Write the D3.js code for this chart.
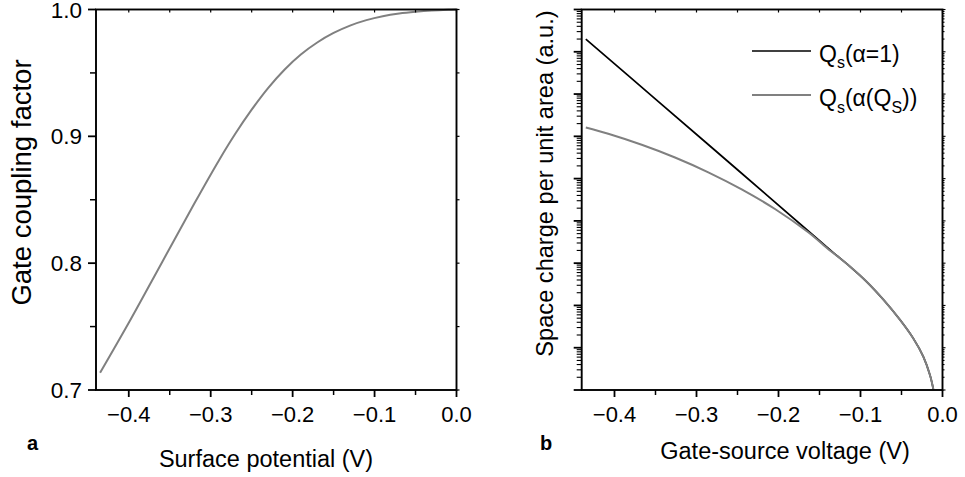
<!DOCTYPE html>
<html>
<head>
<meta charset="utf-8">
<script src="https://cdn.jsdelivr.net/npm/d3@7"></script>
<style>
  html, body { margin: 0; padding: 0; background: #fff; }
  svg { display: block; font-family: "Liberation Sans", Arial, sans-serif; }
</style>
</head>
<body>
<svg id="chart" width="965" height="477"></svg>
<script>
// ---------- data (panel a) ----------
const surfacePotential = [-0.435, -0.40, -0.36, -0.32, -0.29, -0.27, -0.25, -0.23, -0.21, -0.19, -0.17, -0.15, -0.13, -0.11, -0.09, -0.07, -0.05, -0.03, -0.01, 0.0];
const couplingFactor   = [0.7136, 0.753, 0.800, 0.847, 0.881, 0.902, 0.921, 0.938, 0.9525, 0.9645, 0.974, 0.9815, 0.9873, 0.9916, 0.9947, 0.9968, 0.9982, 0.9992, 0.9998, 1.0];

// ---------- data (panel b) ----------
const vgsAlpha1 = [-0.435, -0.35, -0.25, -0.15, -0.1332, -0.1128, -0.0924, -0.0722, -0.0518, -0.0356, -0.0234, -0.0152, -0.0112];
const qsAlpha1  = [2.0e8, 7.6e6, 1.62e5, 3.39e3, 1.78e3, 832, 363, 138, 45.7, 16.6, 6.17, 2.24, 1.05];
const vgsAlphaQ = [-0.435, -0.4076, -0.3668, -0.3262, -0.2856, -0.2449, -0.2043, -0.1637, -0.1393, -0.1332, -0.1128, -0.0924, -0.0722, -0.0518, -0.0356, -0.0234, -0.0152, -0.0112];
const qsAlphaQ  = [1.62e6, 1.15e6, 6.31e5, 3.16e5, 1.41e5, 5.56e4, 1.91e4, 5.37e3, 2.14e3, 1.74e3, 832, 363, 138, 45.7, 16.6, 6.17, 2.24, 1.05];

// ---------- tick labels ----------
const xTicks = [-0.4, -0.3, -0.2, -0.1, 0.0];
const xMinorTicks = [-0.35, -0.25, -0.15, -0.05];
const yTicksA = [0.7, 0.8, 0.9, 1.0];
const yMinorTicksA = [0.75, 0.85, 0.95];

const GRAY = "#808080";
const svg = d3.select("#chart");

function frame(g, x0, x1, y0, y1) {
  g.append("rect").attr("x", x0).attr("y", y0).attr("width", x1 - x0).attr("height", y1 - y0)
    .attr("fill", "none").attr("stroke", "#000").attr("stroke-width", 1.9);
}

function xAxisTicks(g, x, yBottom, yTop) {
  xTicks.forEach(t => {
    g.append("line").attr("x1", x(t)).attr("x2", x(t)).attr("y1", yBottom).attr("y2", yBottom + 7).attr("stroke", "#000").attr("stroke-width", 1.8);
    g.append("line").attr("x1", x(t)).attr("x2", x(t)).attr("y1", yTop).attr("y2", yTop + 3).attr("stroke", "#000").attr("stroke-width", 1.2);
    g.append("text").attr("x", x(t)).attr("y", yBottom + 32).attr("text-anchor", "middle")
      .attr("font-size", 22).text(d3.format(".1f")(t));
  });
  xMinorTicks.forEach(t => {
    g.append("line").attr("x1", x(t)).attr("x2", x(t)).attr("y1", yBottom).attr("y2", yBottom + 5).attr("stroke", "#000").attr("stroke-width", 1.5);
    g.append("line").attr("x1", x(t)).attr("x2", x(t)).attr("y1", yTop).attr("y2", yTop + 3).attr("stroke", "#000").attr("stroke-width", 1.2);
  });
}

// ---------- panel a ----------
{
  const L = 96, R = 456.5, T = 9.5, B = 390;
  const x = d3.scaleLinear().domain([-0.44, 0]).range([L, R]);
  const y = d3.scaleLinear().domain([0.7, 1.0]).range([B, T]);
  const g = svg.append("g");

  const line = d3.line().x(d => x(d[0])).y(d => y(d[1])).curve(d3.curveCatmullRom.alpha(0.5));
  g.append("path").datum(d3.zip(surfacePotential, couplingFactor))
    .attr("d", line).attr("fill", "none").attr("stroke", GRAY).attr("stroke-width", 2);

  frame(g, L, R, T, B);
  xAxisTicks(g, x, B, T);
  yTicksA.forEach(t => {
    g.append("line").attr("x1", L - 8).attr("x2", L).attr("y1", y(t)).attr("y2", y(t)).attr("stroke", "#000").attr("stroke-width", 1.8);
    g.append("line").attr("x1", R).attr("x2", R + 3).attr("y1", y(t)).attr("y2", y(t)).attr("stroke", "#000").attr("stroke-width", 1.2);
    g.append("text").attr("x", L - 14).attr("y", y(t)).attr("dy", "0.36em").attr("text-anchor", "end")
      .attr("font-size", 22.5).text(d3.format(".1f")(t));
  });
  yMinorTicksA.forEach(t => {
    g.append("line").attr("x1", L - 6).attr("x2", L).attr("y1", y(t)).attr("y2", y(t)).attr("stroke", "#000").attr("stroke-width", 1.5);
    g.append("line").attr("x1", R).attr("x2", R + 3).attr("y1", y(t)).attr("y2", y(t)).attr("stroke", "#000").attr("stroke-width", 1.2);
  });

  g.append("text").attr("transform", "translate(31,182.5) rotate(-90)").attr("text-anchor", "middle")
    .attr("font-size", 27.5).text("Gate coupling factor");
  g.append("text").attr("x", 266).attr("y", 467).attr("text-anchor", "middle")
    .attr("font-size", 23.5).text("Surface potential (V)");
  g.append("text").attr("x", 27).attr("y", 450).attr("font-size", 20).attr("font-weight", "bold").text("a");
}

// ---------- panel b ----------
{
  const L = 581.7, R = 942.5, T = 9.5, B = 390;
  const x = d3.scaleLinear().domain([-0.44, 0]).range([L, R]);
  const y = d3.scaleLog().domain([1, 1e9]).range([B, T]);
  const g = svg.append("g");

  g.append("defs").append("clipPath").attr("id", "clipB").append("rect")
    .attr("x", L).attr("y", T).attr("width", R - L).attr("height", B - T);

  const line = d3.line().x(d => x(d[0])).y(d => y(d[1])).curve(d3.curveCatmullRom.alpha(0.5));
  const plot = g.append("g").attr("clip-path", "url(#clipB)");
  plot.append("path").datum(d3.zip(vgsAlpha1, qsAlpha1))
    .attr("d", line).attr("fill", "none").attr("stroke", "#000").attr("stroke-width", 1.7);
  plot.append("path").datum(d3.zip(vgsAlphaQ, qsAlphaQ))
    .attr("d", line).attr("fill", "none").attr("stroke", GRAY).attr("stroke-width", 2);

  frame(g, L, R, T, B);
  xAxisTicks(g, x, B, T);

  y.ticks().forEach(t => {
    const major = Math.abs(Math.log10(t) - Math.round(Math.log10(t))) < 1e-9;
    const len = major ? 8 : 5;
    g.append("line").attr("x1", L - len).attr("x2", L).attr("y1", y(t)).attr("y2", y(t))
      .attr("stroke", "#000").attr("stroke-width", major ? 1.8 : 1.1);
    g.append("line").attr("x1", R).attr("x2", R + (major ? 3 : 2)).attr("y1", y(t)).attr("y2", y(t))
      .attr("stroke", "#000").attr("stroke-width", 1.1);
  });

  g.append("text").attr("transform", "translate(553,183.5) rotate(-90)").attr("text-anchor", "middle")
    .attr("font-size", 23.6).text("Space charge per unit area (a.u.)");
  g.append("text").attr("x", 785).attr("y", 458.5).attr("text-anchor", "middle")
    .attr("font-size", 23.5).text("Gate-source voltage (V)");
  g.append("text").attr("x", 540).attr("y", 450).attr("font-size", 20).attr("font-weight", "bold").text("b");

  // legend
  const lg = g.append("g");
  lg.append("line").attr("x1", 752).attr("x2", 811).attr("y1", 51).attr("y2", 51).attr("stroke", "#000").attr("stroke-width", 1.7);
  lg.append("line").attr("x1", 752).attr("x2", 811).attr("y1", 95).attr("y2", 95).attr("stroke", GRAY).attr("stroke-width", 2);
  const t1 = lg.append("text").attr("x", 819).attr("y", 61.5).attr("font-size", 23);
  t1.append("tspan").text("Q");
  t1.append("tspan").attr("font-size", 16).attr("dy", 6.5).text("s");
  t1.append("tspan").attr("dy", -6.5).text("(α=1)");
  const t2 = lg.append("text").attr("x", 819).attr("y", 106).attr("font-size", 23);
  t2.append("tspan").text("Q");
  t2.append("tspan").attr("font-size", 16).attr("dy", 6.5).text("s");
  t2.append("tspan").attr("dy", -6.5).text("(α(Q");
  t2.append("tspan").attr("font-size", 16).attr("dy", 6.5).text("S");
  t2.append("tspan").attr("dy", -6.5).text("))");
}
</script>
</body>
</html>
